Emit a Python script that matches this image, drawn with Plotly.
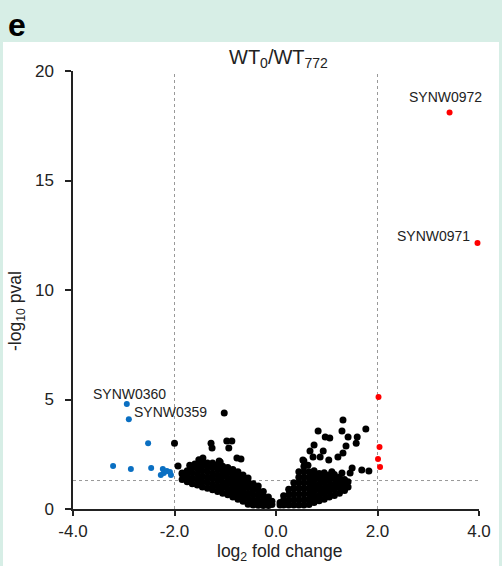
import plotly.graph_objects as go

# ---- data ----
up_x = [3.42, 3.97, 2.02, 2.04, 2.01, 2.05]
up_y = [18.1, 12.15, 5.11, 2.83, 2.28, 1.92]

down_x = [-2.94, -2.90, -2.52, -3.21, -2.86, -2.46, -2.23, -2.21, -2.27, -2.15, -2.09, -2.07]
down_y = [4.80, 4.10, 3.00, 1.96, 1.83, 1.87, 1.83, 1.64, 1.55, 1.74, 1.69, 1.55]

# scattered non-significant genes above the main cloud
ns_out_x = [-2.00, -1.93, -1.85, -1.02, -1.28, -1.26, -0.97, -0.87, -0.93, -1.44, -1.60, -1.24,
            -1.10, -0.77, -0.69, -1.12, -1.35, -1.52, -1.70,
            1.32, 1.77, 0.83, 1.30, 0.97, 1.06, 1.42, 1.60, 0.75, 1.58, 1.38, 0.67, 0.93,
            1.22, 1.04, 0.73, 0.87, 1.32, 0.55, 1.50, 1.69, 1.83, 0.63, 1.10, 1.30, 1.46,
            1.22, 1.32, 0.53]
ns_out_y = [3.00, 1.96, 1.64, 4.38, 3.00, 2.78, 3.10, 3.10, 2.78, 2.33, 2.05, 2.00,
            2.15, 2.33, 2.28, 2.19, 2.10, 2.25, 2.00,
            4.06, 3.65, 3.56, 3.56, 3.29, 3.24, 3.29, 3.29, 2.92, 3.00, 2.88, 2.65, 2.65,
            2.37, 2.24, 2.37, 2.37, 2.56, 2.19, 1.87, 1.78, 1.74, 2.00, 1.70, 1.64, 1.64,
            1.32, 1.19, 2.24]

# dense cloud, down-regulated side (x, y)
cloud_left = [
    (-1.85, 1.35), (-1.85, 1.60),
    (-1.75, 1.25), (-1.75, 1.50), (-1.75, 1.75),
    (-1.65, 1.15), (-1.65, 1.40), (-1.65, 1.65), (-1.65, 1.90),
    (-1.55, 1.10), (-1.55, 1.35), (-1.55, 1.60), (-1.55, 1.85), (-1.55, 2.05),
    (-1.45, 1.00), (-1.45, 1.25), (-1.45, 1.50), (-1.45, 1.75), (-1.45, 2.00), (-1.45, 2.20),
    (-1.35, 0.95), (-1.35, 1.20), (-1.35, 1.45), (-1.35, 1.70), (-1.35, 1.95),
    (-1.25, 0.88), (-1.25, 1.12), (-1.25, 1.38), (-1.25, 1.62), (-1.25, 1.88), (-1.25, 2.10),
    (-1.15, 0.80), (-1.15, 1.05), (-1.15, 1.30), (-1.15, 1.55), (-1.15, 1.80), (-1.15, 2.00),
    (-1.05, 0.72), (-1.05, 0.98), (-1.05, 1.22), (-1.05, 1.48), (-1.05, 1.72), (-1.05, 1.95),
    (-0.95, 0.65), (-0.95, 0.90), (-0.95, 1.15), (-0.95, 1.40), (-0.95, 1.65), (-0.95, 1.90),
    (-0.85, 0.55), (-0.85, 0.80), (-0.85, 1.05), (-0.85, 1.30), (-0.85, 1.55), (-0.85, 1.80),
    (-0.75, 0.45), (-0.75, 0.70), (-0.75, 0.95), (-0.75, 1.20), (-0.75, 1.45), (-0.75, 1.70),
    (-0.65, 0.35), (-0.65, 0.60), (-0.65, 0.85), (-0.65, 1.10), (-0.65, 1.35), (-0.65, 1.55),
    (-0.55, 0.22), (-0.55, 0.48), (-0.55, 0.72), (-0.55, 0.98), (-0.55, 1.22), (-0.55, 1.42),
    (-0.45, 0.18), (-0.45, 0.40), (-0.45, 0.65), (-0.45, 0.90), (-0.45, 1.15),
    (-0.35, 0.17), (-0.35, 0.38), (-0.35, 0.60), (-0.35, 0.85), (-0.35, 1.05),
    (-0.25, 0.16), (-0.25, 0.38), (-0.25, 0.60), (-0.25, 0.80),
    (-0.15, 0.16), (-0.15, 0.35), (-0.15, 0.55),
    (-0.08, 0.20), (-0.08, 0.35),
]

# dense cloud, up-regulated side (x, y)
cloud_right = [
    (0.08, 0.18), (0.08, 0.30),
    (0.15, 0.18), (0.15, 0.40), (0.15, 0.60),
    (0.25, 0.18), (0.25, 0.40), (0.25, 0.65), (0.25, 0.90),
    (0.35, 0.18), (0.35, 0.42), (0.35, 0.68), (0.35, 0.95), (0.35, 1.20),
    (0.45, 0.18), (0.45, 0.42), (0.45, 0.68), (0.45, 0.95), (0.45, 1.20), (0.45, 1.45), (0.45, 1.70),
    (0.55, 0.18), (0.55, 0.42), (0.55, 0.68), (0.55, 0.95), (0.55, 1.20), (0.55, 1.45), (0.55, 1.70), (0.55, 1.95),
    (0.65, 0.20), (0.65, 0.45), (0.65, 0.70), (0.65, 0.95), (0.65, 1.20), (0.65, 1.45), (0.65, 1.70),
    (0.75, 0.30), (0.75, 0.55), (0.75, 0.80), (0.75, 1.05), (0.75, 1.30), (0.75, 1.55), (0.75, 1.75),
    (0.85, 0.38), (0.85, 0.62), (0.85, 0.88), (0.85, 1.12), (0.85, 1.38), (0.85, 1.62),
    (0.95, 0.45), (0.95, 0.70), (0.95, 0.95), (0.95, 1.20), (0.95, 1.45), (0.95, 1.65),
    (1.05, 0.55), (1.05, 0.80), (1.05, 1.05), (1.05, 1.30), (1.05, 1.55),
    (1.15, 0.62), (1.15, 0.88), (1.15, 1.12), (1.15, 1.38), (1.15, 1.58),
    (1.25, 0.72), (1.25, 0.98), (1.25, 1.22), (1.25, 1.45),
    (1.35, 0.85), (1.35, 1.10), (1.35, 1.35),
    (1.42, 1.00), (1.42, 1.25),
]

labels_text = ["SYNW0972", "SYNW0971", "SYNW0360", "SYNW0359"]
x_ticks = [-4, -2, 0, 2, 4]
y_ticks = [0, 5, 10, 15, 20]
fc_cut = 2.0
p_cut = 1.3

FONT = "Arial, Liberation Sans, Helvetica, sans-serif"
TXT = "#222222"

ns_x = ns_out_x + [p[0] for p in cloud_left] + [p[0] for p in cloud_right]
ns_y = ns_out_y + [p[1] for p in cloud_left] + [p[1] for p in cloud_right]

fig = go.Figure()
fig.add_trace(go.Scatter(x=ns_x, y=ns_y, mode="markers",
                         marker=dict(color="black", size=7, line=dict(width=0)),
                         hoverinfo="skip", showlegend=False, cliponaxis=False))
fig.add_trace(go.Scatter(x=down_x, y=down_y, mode="markers",
                         marker=dict(color="#0a6fc2", size=6, line=dict(width=0)),
                         showlegend=False, cliponaxis=False))
fig.add_trace(go.Scatter(x=up_x, y=up_y, mode="markers",
                         marker=dict(color="#ff0000", size=6, line=dict(width=0)),
                         showlegend=False, cliponaxis=False))

# threshold lines
dash = dict(color="#999999", width=1, dash="3px,3px")
for xv in (-fc_cut, fc_cut):
    fig.add_shape(type="line", x0=xv, x1=xv, y0=0, y1=20, xref="x", yref="y", line=dash, layer="below")
fig.add_shape(type="line", x0=-4, x1=4, y0=p_cut, y1=p_cut, xref="x", yref="y", line=dash, layer="below")

L, R, T, B = 73, 23, 71, 57
W, H = 502, 566
pw, ph = W - L - R, H - T - B
def px(xp): return (xp - L) / pw
def py(yp): return (H - B - yp) / ph

# header band and side stripes
band = "#d7eee6"
fig.add_shape(type="rect", xref="paper", yref="paper", x0=px(0), x1=px(W), y0=py(42), y1=py(0),
              fillcolor=band, line=dict(width=0), layer="below")
fig.add_shape(type="rect", xref="paper", yref="paper", x0=px(0), x1=px(3), y0=py(H), y1=py(42),
              fillcolor=band, line=dict(width=0), layer="below")
fig.add_shape(type="rect", xref="paper", yref="paper", x0=px(499), x1=px(W), y0=py(H), y1=py(42),
              fillcolor=band, line=dict(width=0), layer="below")

ann = []
ann.append(dict(text="<b>e</b>", xref="paper", yref="paper", x=px(6), y=py(25), xanchor="left",
                yanchor="middle", showarrow=False, font=dict(size=32, color="black", family=FONT)))
ann.append(dict(text="WT<sub>0</sub>/WT<sub>772</sub>", xref="paper", yref="paper", x=px(278), y=py(58),
                xanchor="center", yanchor="middle", showarrow=False, font=dict(size=20, color=TXT, family=FONT)))
ann.append(dict(text="log<sub>2</sub> fold change", xref="paper", yref="paper", x=px(280), y=py(552),
                xanchor="center", yanchor="middle", showarrow=False, font=dict(size=17.5, color=TXT, family=FONT)))
ann.append(dict(text="-log<sub>10</sub> pval", xref="paper", yref="paper", x=px(16), y=py(311),
                xanchor="center", yanchor="middle", textangle=-90, showarrow=False,
                font=dict(size=17.5, color=TXT, family=FONT)))
lab_font = dict(size=14, color=TXT, family=FONT)
ann.append(dict(text=labels_text[0], x=3.33, y=18.8, xref="x", yref="y", xanchor="center", yanchor="middle",
                showarrow=False, font=lab_font))
ann.append(dict(text=labels_text[1], x=3.87, y=12.45, xref="x", yref="y", xanchor="right", yanchor="middle",
                showarrow=False, font=lab_font))
ann.append(dict(text=labels_text[2], x=-2.13, y=5.25, xref="x", yref="y", xanchor="right", yanchor="middle",
                showarrow=False, font=lab_font))
ann.append(dict(text=labels_text[3], x=-2.84, y=4.43, xref="x", yref="y", xanchor="left", yanchor="middle",
                showarrow=False, font=lab_font))

fig.update_layout(
    width=W, height=H, margin=dict(l=L, r=R, t=T, b=B, pad=0),
    paper_bgcolor="white", plot_bgcolor="white",
    annotations=ann, showlegend=False,
    font=dict(family=FONT, color=TXT),
)
fig.update_xaxes(range=[-4, 4], tickvals=x_ticks, ticktext=[f"{v:.1f}" for v in x_ticks],
                 showgrid=False, zeroline=False, showline=True, linecolor="#222222", linewidth=2,
                 ticks="outside", ticklen=5, tickcolor="#222222", tickwidth=1.5,
                 tickfont=dict(size=17, color=TXT, family=FONT), ticklabelstandoff=1)
fig.update_yaxes(range=[0, 20], tickvals=y_ticks, showgrid=False, zeroline=False,
                 showline=True, linecolor="#222222", linewidth=1.5,
                 ticks="outside", ticklen=6, tickcolor="#222222", tickwidth=1.5,
                 tickfont=dict(size=17, color=TXT, family=FONT), ticklabelstandoff=8)

fig.write_html("out.html", config={"displayModeBar": False},
               post_script="document.body.style.margin='0';document.body.style.padding='0';"
                           "document.body.style.overflow='hidden';")
